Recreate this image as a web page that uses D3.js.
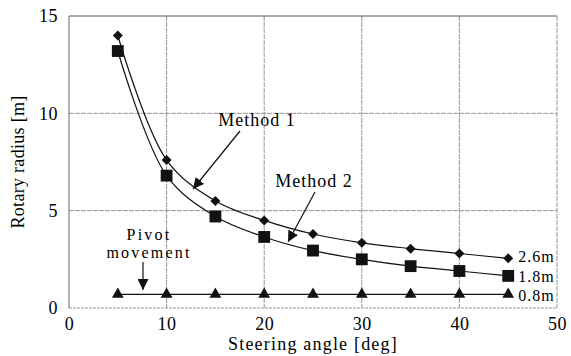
<!DOCTYPE html>
<html>
<head>
<meta charset="utf-8">
<script src="https://cdn.jsdelivr.net/npm/d3@7"></script>
<style>
  body { margin: 0; background: #fff; }
  text { font-family: "Liberation Serif", "Times New Roman", serif; fill: #000; font-size: 18px; }
</style>
</head>
<body>
<div id="chart"></div>
<script>
(function(){
  // steering angle [deg]
  const angles = [5, 10, 15, 20, 25, 30, 35, 40, 45];
  // rotary radius [m] for each wheelbase setting
  const r26 = [14.0, 7.6, 5.5, 4.5, 3.8, 3.35, 3.05, 2.8, 2.55];
  const r18 = [13.2, 6.8, 4.7, 3.65, 2.95, 2.5, 2.15, 1.9, 1.65];
  const r08 = [0.7, 0.7, 0.7, 0.7, 0.7, 0.7, 0.7, 0.7, 0.7];
  const seriesLabels = ["2.6m", "1.8m", "0.8m"];
  const xTicks = [0, 10, 20, 30, 40, 50];
  const yTicks = [0, 5, 10, 15];

  const width = 571, height = 356;
  const margin = {top: 16, right: 14, bottom: 48, left: 69};
  const w = width - margin.left - margin.right;
  const h = height - margin.top - margin.bottom;

  const svg = d3.select("#chart").append("svg")
    .attr("width", width)
    .attr("height", height);

  const x = d3.scaleLinear().domain([0, 50]).range([0, w]);
  const y = d3.scaleLinear().domain([0, 15]).range([h, 0]);

  const g = svg.append("g")
    .attr("transform", `translate(${margin.left},${margin.top})`);

  // grid
  g.selectAll(".vgrid")
    .data(xTicks.slice(1))
    .enter().append("line")
    .attr("x1", d => x(d)).attr("x2", d => x(d))
    .attr("y1", 0).attr("y2", h)
    .attr("stroke", "#8a8a8a").attr("stroke-width", 0.9)
    .attr("stroke-dasharray", "5,1");
  g.selectAll(".hgrid")
    .data(yTicks.slice(1))
    .enter().append("line")
    .attr("x1", 0).attr("x2", w)
    .attr("y1", d => y(d)).attr("y2", d => y(d))
    .attr("stroke", d => d === 15 ? "#444" : "#8a8a8a").attr("stroke-width", 0.9)
    .attr("stroke-dasharray", d => d === 15 ? null : "5,1");
  // bottom and left frame
  g.append("line")
    .attr("x1", 0).attr("x2", w).attr("y1", h).attr("y2", h)
    .attr("stroke", "#999").attr("stroke-dasharray", "3,1");
  g.append("line")
    .attr("x1", 0).attr("x2", 0).attr("y1", 0).attr("y2", h)
    .attr("stroke", "#666");

  // axes (labels only)
  const xAxis = g.append("g")
    .attr("transform", `translate(0,${h})`)
    .call(d3.axisBottom(x).tickValues(xTicks).tickSize(0).tickPadding(9));
  const yAxis = g.append("g")
    .call(d3.axisLeft(y).tickValues(yTicks).tickSize(0).tickPadding(11));
  [xAxis, yAxis].forEach(a => {
    a.select(".domain").remove();
    a.selectAll("text")
      .style("font-family", "Liberation Serif, serif")
      .style("font-size", "18px")
      .style("letter-spacing", "0.5px")
      .attr("fill", "#000");
  });

  // series
  const line = d3.line()
    .x(d => x(d[0]))
    .y(d => y(d[1]))
    .curve(d3.curveCatmullRom.alpha(0.5));

  const series = [
    {vals: r26, sym: d3.symbolSquare, size: 50, rot: 45, nudge: -1.5},
    {vals: r18, sym: d3.symbolSquare, size: 140, rot: 0, nudge: 1},
    {vals: r08, sym: d3.symbolTriangle, size: 60, rot: 0, nudge: 1}
  ];

  series.forEach((s, si) => {
    const pts = angles.map((a, i) => [a, s.vals[i]]);
    g.append("path")
      .datum(pts)
      .attr("fill", "none")
      .attr("stroke", "#111")
      .attr("stroke-width", 1.2)
      .attr("d", line);
    g.selectAll(".m" + si)
      .data(pts)
      .enter().append("path")
      .attr("transform", d => `translate(${x(d[0])},${y(d[1])}) rotate(${s.rot})`)
      .attr("d", d3.symbol().type(s.sym).size(s.size))
      .attr("fill", "#111");
    g.append("text")
      .attr("x", x(45) + 10)
      .attr("y", y(s.vals[s.vals.length - 1]) + s.nudge)
      .attr("dy", "0.35em")
      .style("font-size", "16px")
      .style("letter-spacing", "1px")
      .text(seriesLabels[si]);
  });

  // annotations
  svg.append("defs").append("marker")
    .attr("id", "arr")
    .attr("viewBox", "0 0 10 10")
    .attr("refX", 10).attr("refY", 5)
    .attr("markerWidth", 11).attr("markerHeight", 11)
    .attr("markerUnits", "userSpaceOnUse")
    .attr("orient", "auto")
    .append("path")
    .attr("d", "M0,0 L10,5 L0,10 z")
    .attr("fill", "#111");

  function note(lines, tx, ty, fs, ls, ax1, ay1, ax2, ay2) {
    lines.forEach((l, i) => {
      svg.append("text")
        .attr("x", tx).attr("y", ty + i * 18)
        .attr("text-anchor", "middle")
        .style("font-size", fs + "px")
        .style("letter-spacing", ls + "px")
        .text(l);
    });
    svg.append("line")
      .attr("x1", ax1).attr("y1", ay1).attr("x2", ax2).attr("y2", ay2)
      .attr("stroke", "#111").attr("stroke-width", 1.2)
      .attr("marker-end", "url(#arr)");
  }
  note(["Method 1"], 257, 126, 18, 1, 240, 131, 193, 189);
  note(["Method 2"], 314, 187, 18, 1, 315, 192, 288, 242);
  note(["Pivot", "movement"], 149, 240, 16, 2.2, 143, 262, 143, 290);

  // axis titles
  svg.append("text")
    .attr("x", 313)
    .attr("y", 350)
    .attr("text-anchor", "middle")
    .style("letter-spacing", "1.2px")
    .text("Steering angle [deg]");
  svg.append("text")
    .attr("transform", `translate(24,${margin.top + h / 2}) rotate(-90)`)
    .attr("text-anchor", "middle")
    .style("letter-spacing", "0.3px")
    .text("Rotary radius [m]");
})();
</script>
</body>
</html>
